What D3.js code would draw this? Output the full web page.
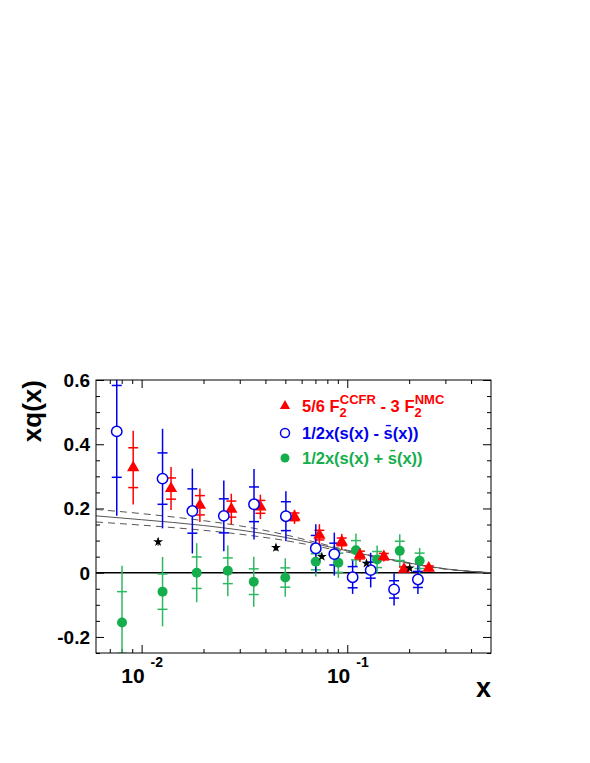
<!DOCTYPE html>
<html>
<head>
<meta charset="utf-8">
<script src="https://cdn.jsdelivr.net/npm/d3@7"></script>
<style>
  body { margin: 0; background: #fff; }
  text { font-family: "Liberation Sans", Arial, Helvetica, sans-serif; font-weight: bold; }
</style>
</head>
<body>
<div id="chart"></div>
<script>
// ---- data ----
// 5/6 F2(CCFR) - 3 F2(NMC)
var redX    = [0.0091, 0.0139, 0.0192, 0.0273, 0.0378, 0.0554, 0.0732, 0.094, 0.1152, 0.1506, 0.1888, 0.249];
var redY    = [0.327, 0.262, 0.210, 0.198, 0.205, 0.174, 0.117, 0.096, 0.055, 0.050, 0.011, 0.014];
var redStat = [0.062, 0.033, 0.030, 0.025, 0.020, 0.012, 0.015, 0.012, 0.012, 0.010, 0.007, 0.007];
var redTot  = [0.115, 0.067, 0.052, 0.048, 0.038, 0.022, 0.034, 0.025, 0.022, 0.015, 0.010, 0.010];

// 1/2 x (s - sbar)
var blueX    = [0.00757, 0.01264, 0.01765, 0.0251, 0.0352, 0.0503, 0.0703, 0.0865, 0.1062, 0.130, 0.1689, 0.2206];
var blueY    = [0.440, 0.293, 0.192, 0.177, 0.213, 0.176, 0.076, 0.058, -0.014, 0.008, -0.052, -0.021];
var blueStat = [0.143, 0.080, 0.069, 0.053, 0.054, 0.045, 0.040, 0.034, 0.033, 0.025, 0.027, 0.025];
var blueTot  = [0.263, 0.155, 0.132, 0.110, 0.110, 0.078, 0.075, 0.067, 0.052, 0.054, 0.050, 0.045];

// 1/2 x (s + sbar)
var greenX    = [0.00803, 0.01264, 0.01853, 0.02625, 0.0351, 0.04995, 0.0703, 0.0905, 0.1102, 0.1397, 0.180, 0.2249];
var greenY    = [-0.155, -0.059, 0.000, 0.006, -0.028, -0.015, 0.034, 0.031, 0.070, 0.041, 0.068, 0.037];
var greenStat = [0.096, 0.055, 0.049, 0.040, 0.040, 0.030, 0.025, 0.030, 0.030, 0.025, 0.030, 0.024];
var greenTot  = [0.177, 0.108, 0.092, 0.079, 0.078, 0.060, 0.046, 0.047, 0.052, 0.044, 0.052, 0.040];

// black stars
var starX   = [0.01203, 0.045, 0.0752, 0.124, 0.2012];
var starY   = [0.096, 0.078, 0.050, 0.029, 0.014];
var starErr = [0.012, 0.010, 0.006, 0.004, 0.003];

// curves (central and band)
var curveX     = [0.006, 0.01, 0.02, 0.03, 0.05, 0.07, 0.1, 0.15, 0.2, 0.3, 0.4, 0.5];
var curveMid   = [0.177, 0.165, 0.147, 0.133, 0.110, 0.090, 0.068, 0.045, 0.030, 0.012, 0.004, 0.0];
var curveUpper = [0.197, 0.184, 0.162, 0.146, 0.118, 0.095, 0.070, 0.046, 0.031, 0.012, 0.004, 0.0];
var curveLower = [0.158, 0.148, 0.132, 0.120, 0.100, 0.083, 0.064, 0.043, 0.029, 0.011, 0.004, 0.0];

// axis ticks
var yMajor = [-0.2, 0, 0.2, 0.4, 0.6];
var yMinor = [-0.25, -0.15, -0.1, -0.05, 0.05, 0.1, 0.15, 0.25, 0.3, 0.35, 0.45, 0.5, 0.55];
var yLabels = ["-0.2", "0", "0.2", "0.4", "0.6"];
var xMajor = [0.01, 0.1];
var xMinor = [0.007, 0.008, 0.009, 0.02, 0.03, 0.04, 0.05, 0.06, 0.07, 0.08, 0.09, 0.2, 0.3, 0.4];
var xExp = ["-2", "-1"];

// ---- layout ----
var W = 590, H = 763;
var mLeft = 96, mRight = 491, mTop = 380, mBottom = 653;

var RED = "#ff0000", BLUE = "#0000ee", GREEN = "#14ae4c", GREENBAR = "#2fb862";

var svg = d3.select("#chart").append("svg")
  .attr("width", W).attr("height", H);

var x = d3.scaleLog().domain([0.006, 0.5]).range([mLeft, mRight]);
var y = d3.scaleLinear().domain([-0.25, 0.6]).range([mBottom, mTop]);

svg.append("defs").append("clipPath").attr("id", "frame")
  .append("rect").attr("x", mLeft).attr("y", mTop)
  .attr("width", mRight - mLeft).attr("height", mBottom - mTop);

// axes, ticks inside
function tickAxis(axis, tr) {
  var g = svg.append("g").attr("transform", tr).call(axis);
  g.selectAll("text").remove();
  g.select(".domain").remove();
  g.selectAll("line").attr("stroke", "#000").attr("stroke-width", 1);
  return g;
}
tickAxis(d3.axisLeft(y).tickValues(yMajor).tickSize(-8), "translate(" + mLeft + ",0)");
tickAxis(d3.axisLeft(y).tickValues(yMinor).tickSize(-4), "translate(" + mLeft + ",0)");
tickAxis(d3.axisRight(y).tickValues(yMajor).tickSize(-8), "translate(" + mRight + ",0)");
tickAxis(d3.axisRight(y).tickValues(yMinor).tickSize(-4), "translate(" + mRight + ",0)");
tickAxis(d3.axisBottom(x).tickValues(xMajor).tickSize(-8), "translate(0," + mBottom + ")");
tickAxis(d3.axisBottom(x).tickValues(xMinor).tickSize(-4), "translate(0," + mBottom + ")");
tickAxis(d3.axisTop(x).tickValues(xMajor).tickSize(-8), "translate(0," + mTop + ")");
tickAxis(d3.axisTop(x).tickValues(xMinor).tickSize(-4), "translate(0," + mTop + ")");

// y tick labels
svg.append("g").selectAll("text")
  .data(yMajor)
  .enter().append("text")
  .attr("x", mLeft - 6)
  .attr("y", function (d) { return y(d); })
  .attr("dy", "0.36em")
  .attr("text-anchor", "end")
  .style("font-size", "19px")
  .text(function (d, i) { return yLabels[i]; });

// x tick labels 10^n
var xl = svg.append("g").selectAll("g").data(xMajor).enter().append("g");
xl.append("text")
  .attr("x", function (d) { return x(d) + 3; })
  .attr("y", 683)
  .attr("text-anchor", "end")
  .style("font-size", "21px")
  .text("10");
xl.append("text")
  .attr("x", function (d) { return x(d) + 9; })
  .attr("y", 667)
  .style("font-size", "14px")
  .text(function (d, i) { return xExp[i]; });

// axis titles
svg.append("text")
  .attr("x", mRight).attr("y", 697)
  .attr("text-anchor", "end")
  .style("font-size", "27px")
  .text("x");
svg.append("text")
  .attr("transform", "translate(41," + mTop + ") rotate(-90)")
  .attr("text-anchor", "end")
  .style("font-size", "26px")
  .text("xq(x)");

// plot content
var plot = svg.append("g").attr("clip-path", "url(#frame)");

// zero line
plot.append("line")
  .attr("x1", mLeft).attr("x2", mRight)
  .attr("y1", y(0)).attr("y2", y(0))
  .attr("stroke", "#000").attr("stroke-width", 1.5);

// curves
function drawCurve(vals, dash) {
  var line = d3.line()
    .x(function (d, i) { return x(curveX[i]); })
    .y(function (d) { return y(d); })
    .curve(d3.curveMonotoneX);
  plot.append("path")
    .datum(vals)
    .attr("d", line)
    .attr("fill", "none")
    .attr("stroke", "#555")
    .attr("stroke-width", 1)
    .attr("stroke-dasharray", dash);
}
drawCurve(curveUpper, "7,5");
drawCurve(curveLower, "7,5");
drawCurve(curveMid, null);

// error bars: outer line = total, short caps = statistical
function errorBars(xs, ys, stat, tot, color) {
  var data = xs.map(function (d, i) { return {x: d, y: ys[i], s: stat[i], t: tot[i]}; });
  var g = plot.append("g");
  g.selectAll(".tot").data(data).enter().append("line")
    .attr("x1", function (d) { return x(d.x); })
    .attr("x2", function (d) { return x(d.x); })
    .attr("y1", function (d) { return y(d.y + d.t); })
    .attr("y2", function (d) { return y(d.y - d.t); })
    .attr("stroke", color).attr("stroke-width", 1.5);
  [1, -1].forEach(function (sg) {
    g.selectAll(".stat" + sg).data(data).enter().append("line")
      .attr("x1", function (d) { return x(d.x) - 5; })
      .attr("x2", function (d) { return x(d.x) + 5; })
      .attr("y1", function (d) { return y(d.y + sg * d.s); })
      .attr("y2", function (d) { return y(d.y + sg * d.s); })
      .attr("stroke", color).attr("stroke-width", 1.5);
  });
  return data;
}

var greenData = errorBars(greenX, greenY, greenStat, greenTot, GREENBAR);
var redData = errorBars(redX, redY, redStat, redTot, RED);
var blueData = errorBars(blueX, blueY, blueStat, blueTot, BLUE);

// star error bars
plot.append("g").selectAll("line")
  .data(starX).enter().append("line")
  .attr("x1", function (d) { return x(d); })
  .attr("x2", function (d) { return x(d); })
  .attr("y1", function (d, i) { return y(starY[i] + starErr[i]); })
  .attr("y2", function (d, i) { return y(starY[i] - starErr[i]); })
  .attr("stroke", "#000").attr("stroke-width", 1);

// markers
plot.append("g").selectAll("circle")
  .data(greenData).enter().append("circle")
  .attr("cx", function (d) { return x(d.x); })
  .attr("cy", function (d) { return y(d.y); })
  .attr("r", 5)
  .attr("fill", GREEN);

var tri = d3.symbol().type(d3.symbolTriangle).size(66);
plot.append("g").selectAll("path")
  .data(redData).enter().append("path")
  .attr("d", tri)
  .attr("transform", function (d) { return "translate(" + x(d.x) + "," + y(d.y) + ")"; })
  .attr("fill", RED);

plot.append("g").selectAll("circle")
  .data(blueData).enter().append("circle")
  .attr("cx", function (d) { return x(d.x); })
  .attr("cy", function (d) { return y(d.y); })
  .attr("r", 5.2)
  .attr("fill", "#fff")
  .attr("stroke", BLUE).attr("stroke-width", 1.5);

var star = d3.symbol().type(d3.symbolStar).size(30);
plot.append("g").selectAll("path")
  .data(starX).enter().append("path")
  .attr("d", star)
  .attr("transform", function (d, i) { return "translate(" + x(d) + "," + y(starY[i]) + ")"; })
  .attr("fill", "#000");

// frame
svg.append("rect")
  .attr("x", mLeft).attr("y", mTop)
  .attr("width", mRight - mLeft).attr("height", mBottom - mTop)
  .attr("fill", "none").attr("stroke", "#000").attr("stroke-width", 1);

// legend
var legX = 285, legTextX = 302, legY = [406, 433, 458];
var leg = svg.append("g").style("font-size", "16.5px");

leg.append("path")
  .attr("d", d3.symbol().type(d3.symbolTriangle).size(45))
  .attr("transform", "translate(" + legX + "," + legY[0] + ")")
  .attr("fill", RED);
leg.append("circle").attr("cx", legX).attr("cy", legY[1]).attr("r", 4.5)
  .attr("fill", "#fff").attr("stroke", BLUE).attr("stroke-width", 1.5);
leg.append("circle").attr("cx", legX).attr("cy", legY[2]).attr("r", 4.5)
  .attr("fill", GREEN);

var t1 = leg.append("text").attr("x", legTextX).attr("y", legY[0] + 6).attr("fill", RED);
t1.append("tspan").text("5/6 F");
t1.append("tspan").attr("dy", 5).style("font-size", "13px").text("2");
t1.append("tspan").attr("dx", -7).attr("dy", -13).style("font-size", "13px").text("CCFR");
t1.append("tspan").attr("dy", 8).text(" - 3 F");
t1.append("tspan").attr("dy", 5).style("font-size", "13px").text("2");
t1.append("tspan").attr("dx", -7).attr("dy", -13).style("font-size", "13px").text("NMC");

leg.append("text").attr("x", legTextX).attr("y", legY[1] + 6).attr("fill", BLUE)
  .text("1/2x(s(x) - s\u0304(x))");
leg.append("text").attr("x", legTextX).attr("y", legY[2] + 6).attr("fill", GREEN)
  .text("1/2x(s(x) + s\u0304(x))");
</script>
</body>
</html>
